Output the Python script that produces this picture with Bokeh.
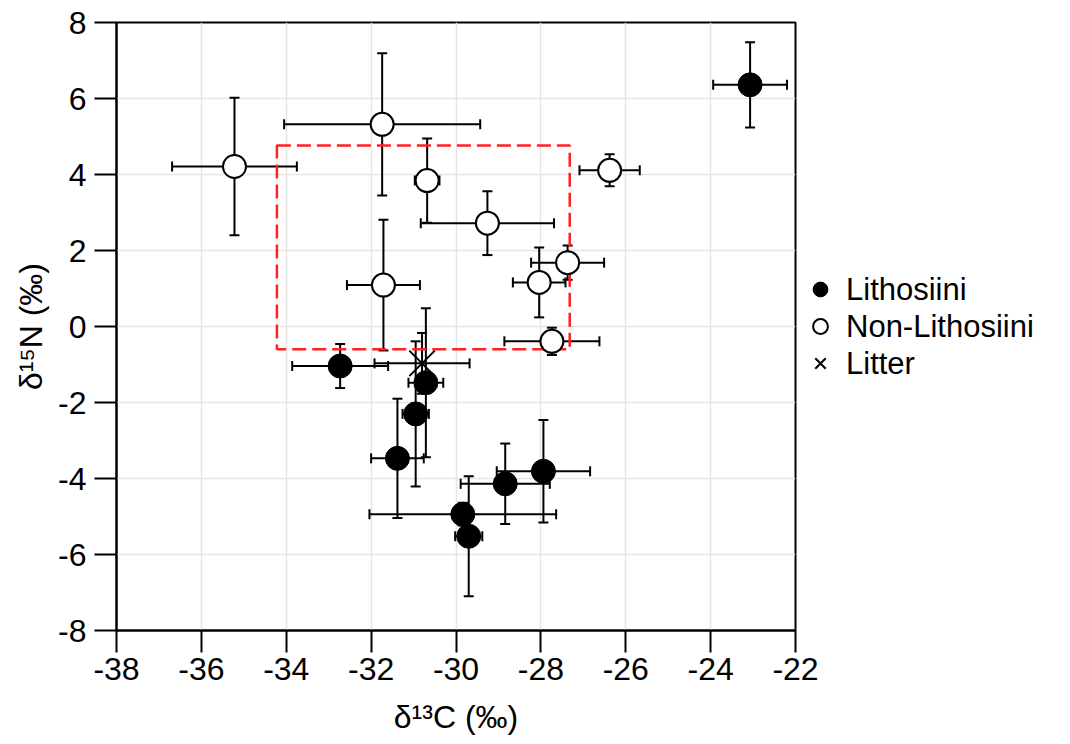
from bokeh.plotting import figure
from bokeh.models import (ColumnDataSource, Whisker, TeeHead, Legend, LegendItem,
                          FixedTicker, Range1d, PrintfTickFormatter)
from bokeh.embed import file_html
from bokeh.resources import INLINE

# ---- data ----
lith_x = [-23.07, -32.73, -30.71, -30.95, -31.38, -27.94, -28.84, -29.84, -29.70]
lith_y = [6.36, -1.04, -1.48, -2.30, -3.47, -3.81, -4.14, -4.94, -5.52]
lith_xerr = [0.87, 1.13, 0.41, 0.31, 0.62, 1.10, 1.05, 2.20, 0.32]
lith_yerr = [1.12, 0.58, 1.96, 1.91, 1.57, 1.35, 1.06, 0.30, 1.58]

non_x = [-35.22, -31.74, -30.68, -29.26, -26.38, -27.37, -28.04, -31.71, -27.74]
non_y = [4.21, 5.32, 3.84, 2.72, 4.11, 1.68, 1.16, 1.09, -0.39]
non_xerr = [1.47, 2.31, 0.29, 1.57, 0.71, 0.86, 0.62, 0.86, 1.12]
non_yerr = [1.81, 1.87, 1.11, 0.84, 0.42, 0.45, 0.92, 1.72, 0.36]

lit_x = [-30.80]
lit_y = [-0.97]
lit_xerr = [1.12]
lit_yerr = [0.80]

box_left = [-34.22]
box_right = [-27.32]
box_bottom = [-0.60]
box_top = [4.76]

x_ticks = [-38, -36, -34, -32, -30, -28, -26, -24, -22]
y_ticks = [-8, -6, -4, -2, 0, 2, 4, 6, 8]

FONT = "Liberation Sans"

p = figure(frame_width=679, frame_height=608,
           min_border_left=116, min_border_top=22, min_border_bottom=100,
           min_border_right=0,
           x_range=Range1d(-38, -22), y_range=Range1d(-8, 8),
           output_backend="svg", toolbar_location=None)
p.background_fill_color = "white"
p.border_fill_color = "white"
p.outline_line_color = "black"
p.outline_line_width = 2

for ax in (p.xaxis, p.yaxis):
    ax.axis_line_width = 2
    ax.axis_line_color = "black"
    ax.major_tick_line_width = 2
    ax.major_tick_line_color = "black"
    ax.major_tick_in = 0
    ax.major_tick_out = 22
    ax.minor_tick_line_color = None
    ax.major_label_text_font = FONT
    ax.major_label_text_font_size = "32px"
    ax.major_label_text_color = "black"
    ax.axis_label_text_font = FONT
    ax.axis_label_text_font_size = "32px"
    ax.axis_label_text_font_style = "normal"
    ax.axis_label_text_color = "black"
    ax.formatter = PrintfTickFormatter(format="%d")

p.xaxis.ticker = FixedTicker(ticks=x_ticks)
p.yaxis.ticker = FixedTicker(ticks=y_ticks)
p.xaxis.major_label_standoff = 5
p.yaxis.major_label_standoff = 8
p.xaxis.axis_label = "δ¹³C (‰)"
p.yaxis.axis_label = "δ¹⁵N (‰)"
p.xaxis.axis_label_standoff = 16
p.yaxis.axis_label_standoff = 6

p.grid.grid_line_color = "#e5e5e5"
p.grid.grid_line_width = 1.5

# red dashed box
p.quad(left=box_left, right=box_right, bottom=box_bottom, top=box_top,
       fill_color=None, line_color="#ff2020", line_width=2.5, line_dash="14 6")


def add_errors(xs, ys, xe, ye):
    src = ColumnDataSource(dict(
        x=xs, y=ys,
        xl=[a - b for a, b in zip(xs, xe)], xu=[a + b for a, b in zip(xs, xe)],
        yl=[a - b for a, b in zip(ys, ye)], yu=[a + b for a, b in zip(ys, ye)]))
    for dim, base, lo, hi in (("width", "y", "xl", "xu"), ("height", "x", "yl", "yu")):
        w = Whisker(source=src, base=base, lower=lo, upper=hi, dimension=dim,
                    line_color="black", line_width=2, level="underlay",
                    upper_head=TeeHead(size=10, line_width=2, line_color="black"),
                    lower_head=TeeHead(size=10, line_width=2, line_color="black"))
        p.add_layout(w)
    return src


s_non = add_errors(non_x, non_y, non_xerr, non_yerr)
s_lit = add_errors(lit_x, lit_y, lit_xerr, lit_yerr)
s_lith = add_errors(lith_x, lith_y, lith_xerr, lith_yerr)

r_non = p.scatter("x", "y", source=s_non, marker="circle", size=23,
                  fill_color="white", line_color="black", line_width=2)
r_lit = p.scatter("x", "y", source=s_lit, marker="x", size=36,
                  line_color="black", line_width=2)
r_lith = p.scatter("x", "y", source=s_lith, marker="circle", size=24,
                   fill_color="black", line_color="black", line_width=1)

legend = Legend(items=[LegendItem(label="Lithosiini", renderers=[r_lith]),
                       LegendItem(label="Non-Lithosiini", renderers=[r_non]),
                       LegendItem(label="Litter", renderers=[r_lit])],
                location="center_left", orientation="vertical")
legend.border_line_color = None
legend.background_fill_alpha = 0
legend.label_text_font = FONT
legend.label_text_font_size = "31px"
legend.label_text_color = "black"
legend.glyph_width = 40
legend.glyph_height = 37
legend.label_height = 37
legend.spacing = 0
legend.padding = 0
legend.margin = 5
legend.label_standoff = 6
p.add_layout(legend, "right")

open("out.html", "w").write(file_html(p, INLINE))
